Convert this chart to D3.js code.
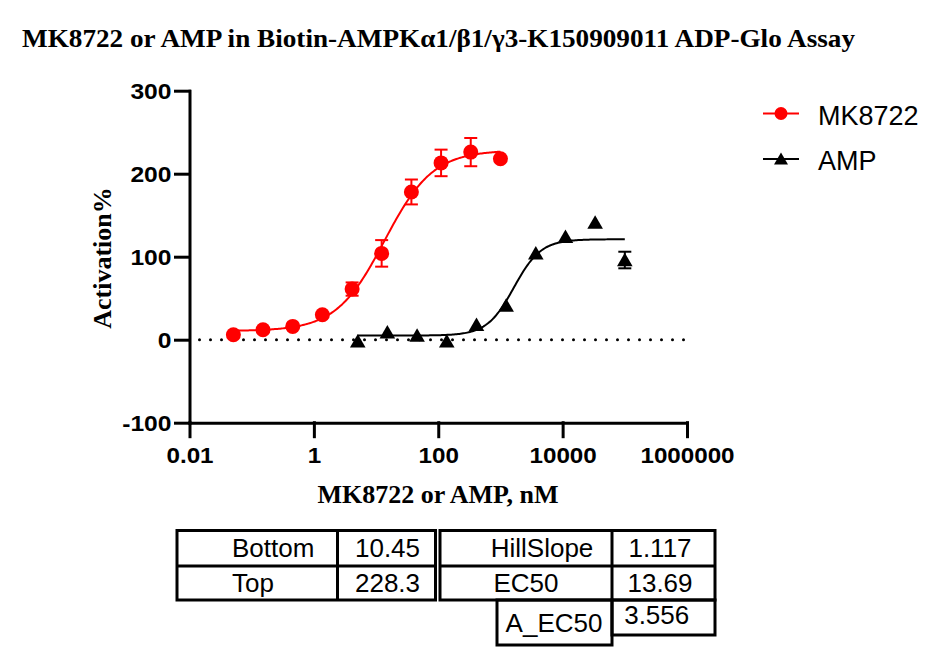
<!DOCTYPE html>
<html>
<head>
<meta charset="utf-8">
<script src="https://cdn.jsdelivr.net/npm/d3@7"></script>
<style>
  body { margin: 0; background: #fff; }
  svg { display: block; }
</style>
</head>
<body>
<div id="chart"></div>
<script>
(function(){
  'use strict';

  // MK8722, 3-fold dilution from 1000 nM
  var mkConc = [0.0508, 0.152, 0.457, 1.37, 4.12, 12.3, 37.0, 111, 333, 1000],
      mkVals = [6, 12, 16, 30, 61, 104, 178, 213, 226, 218],
      mkErr  = [0, 0, 0, 0, 8, 16, 15, 16, 17, 0];

  // AMP, 3-fold dilution from 100000 nM
  var ampConc = [5.08, 15.2, 45.7, 137, 412, 1235, 3704, 11111, 33333, 100000],
      ampVals = [-2, 9, 5, -2, 18, 41, 104, 124, 141, 96],
      ampErr  = [0, 0, 0, 0, 0, 0, 0, 0, 0, 10];

  // fit parameters: bottom, top, EC50, hill
  var mkFit  = [10.45, 228.3, 13.69, 1.117],
      ampFit = [5, 121, 1650, 2.0];

  var xTicks = [0.01, 1, 100, 10000, 1000000],
      xTickLabels = ['0.01', '1', '100', '10000', '1000000'],
      yTicks = [-100, 0, 100, 200, 300],
      yTickLabels = ['-100', '0', '100', '200', '300'];

  var tableRows = [
        ['Bottom', '10.45', 'HillSlope', '1.117'],
        ['Top', '228.3', 'EC50', '13.69']
      ],
      tableExtra = ['A_EC50', '3.556'];

  var titleText = 'MK8722 or AMP in Biotin-AMPK\u03b11/\u03b21/\u03b33-K150909011 ADP-Glo Assay',
      xTitle = 'MK8722 or AMP, nM',
      yTitle = 'Activation%',
      series = ['MK8722', 'AMP'],
      colors = ['#ff0000', '#000000'];

  var w = 945, h = 663,
      sans = 'Arial, "Liberation Sans", sans-serif',
      serif = '"Times New Roman", "Liberation Serif", serif';

  var svg = d3.select('#chart').append('svg')
      .attr('width', w)
      .attr('height', h);

  var x = d3.scaleLog()
      .domain([0.01, 1000000])
      .range([189.5, 687]),

      y = d3.scaleLinear()
      .domain([-100, 300])
      .range([422.7, 90.7]);

  function label(txt, px, py, size, anchor, sx, font, bold) {
    return svg.append('text')
      .attr('transform', 'translate(' + px + ',' + py + ') scale(' + sx + ',1)')
      .attr('text-anchor', anchor)
      .style('font-family', font)
      .style('font-weight', bold ? 'bold' : 'normal')
      .style('font-size', size + 'px')
      .text(txt);
  }

  // title
  label(titleText, 22, 47, 26, 'start', 1, serif, true)
    .attr('textLength', 833)
    .attr('lengthAdjust', 'spacingAndGlyphs');

  // axes
  var xAxis = d3.axisBottom(x)
      .tickValues(xTicks)
      .tickFormat(function(d, i) { return xTickLabels[i]; })
      .tickSize(14)
      .tickSizeOuter(0),

      yAxis = d3.axisLeft(y)
      .tickValues(yTicks)
      .tickFormat(function(d, i) { return yTickLabels[i]; })
      .tickSize(14)
      .tickSizeOuter(0);

  var gx = svg.append('g')
    .attr('class', 'x axis')
    .attr('transform', 'translate(0,' + y(-100) + ')')
    .call(xAxis);

  gx.selectAll('text')
    .attr('y', 0).attr('dy', 0)
    .attr('transform', 'translate(0,40) scale(1.1,1)');

  var gy = svg.append('g')
    .attr('class', 'y axis')
    .attr('transform', 'translate(' + x(0.01) + ',0)')
    .call(yAxis);

  gy.selectAll('text')
    .attr('x', 0).attr('dy', '0.36em')
    .attr('transform', 'translate(-18,0) scale(1.12,1)');

  svg.selectAll('.axis path, .axis line')
    .attr('stroke', '#000')
    .attr('stroke-width', 3)
    .attr('stroke-linecap', 'square');

  svg.selectAll('.axis text')
    .attr('fill', '#000')
    .style('font-family', sans)
    .style('font-weight', 'bold')
    .style('font-size', '22px');

  // axis titles
  label(xTitle, 438, 503, 26, 'middle', 1, serif, true);
  svg.append('text')
    .attr('transform', 'translate(111,258) rotate(-90)')
    .attr('text-anchor', 'middle')
    .style('font-family', serif)
    .style('font-weight', 'bold')
    .style('font-size', '26px')
    .text(yTitle);

  // dotted zero line
  svg.append('line')
    .attr('x1', x(0.01) + 10).attr('x2', x(1000000))
    .attr('y1', y(0)).attr('y2', y(0))
    .attr('stroke', '#000')
    .attr('stroke-width', 3)
    .attr('stroke-linecap', 'round')
    .attr('stroke-dasharray', '0,11');

  // fitted curves
  function hill(p, c) {
    return p[0] + (p[1] - p[0]) / (1 + Math.pow(p[2] / c, p[3]));
  }

  function curve(p, lo, hi, col) {
    var pts = d3.range(0, 201).map(function(i) {
      var c = Math.pow(10, Math.log10(lo) + (Math.log10(hi) - Math.log10(lo)) * i / 200);
      return [c, hill(p, c)];
    });
    svg.append('path')
      .datum(pts)
      .attr('fill', 'none')
      .attr('stroke', col)
      .attr('stroke-width', 2)
      .attr('d', d3.line()
        .x(function(d) { return x(d[0]); })
        .y(function(d) { return y(d[1]); }));
  }

  curve(mkFit, mkConc[0], mkConc[mkConc.length - 1], colors[0]);
  curve(ampFit, ampConc[0], ampConc[ampConc.length - 1], colors[1]);

  // error bars (only where SD shows beyond the symbol)
  function errBars(conc, vals, errs, col) {
    var g = svg.append('g');
    conc.forEach(function(c, i) {
      if (!errs[i]) return;
      var cx = x(c), t = y(vals[i] + errs[i]), b = y(vals[i] - errs[i]);
      g.append('line').attr('x1', cx).attr('x2', cx).attr('y1', t).attr('y2', b);
      g.append('line').attr('x1', cx - 6.5).attr('x2', cx + 6.5).attr('y1', t).attr('y2', t);
      g.append('line').attr('x1', cx - 6.5).attr('x2', cx + 6.5).attr('y1', b).attr('y2', b);
    });
    g.selectAll('line').attr('stroke', col).attr('stroke-width', 2);
  }

  errBars(mkConc, mkVals, mkErr, colors[0]);
  errBars(ampConc, ampVals, ampErr, colors[1]);

  var tri = 'M0,-7.3L7.8,6.2L-7.8,6.2Z';

  svg.selectAll('.mk')
    .data(mkConc)
    .enter()
    .append('circle')
    .attr('class', 'mk')
    .attr('cx', function(d) { return x(d); })
    .attr('cy', function(d, i) { return y(mkVals[i]); })
    .attr('r', 7.5)
    .attr('fill', colors[0]);

  svg.selectAll('.amp')
    .data(ampConc)
    .enter()
    .append('path')
    .attr('class', 'amp')
    .attr('d', tri)
    .attr('transform', function(d, i) { return 'translate(' + x(d) + ',' + y(ampVals[i]) + ')'; })
    .attr('fill', colors[1]);

  // legend
  var legY = [113.5, 159];
  series.forEach(function(s, i) {
    svg.append('line')
      .attr('x1', 763).attr('x2', 799)
      .attr('y1', legY[i]).attr('y2', legY[i])
      .attr('stroke', colors[i]).attr('stroke-width', 2);
    if (i === 0) {
      svg.append('circle').attr('cx', 781).attr('cy', legY[i]).attr('r', 6.5).attr('fill', colors[i]);
    } else {
      svg.append('path').attr('d', 'M0,-6.5L7,5.6L-7,5.6Z')
        .attr('transform', 'translate(781,' + legY[i] + ')').attr('fill', colors[i]);
    }
    label(s, 818, legY[i] + 11, 27, 'start', 1, sans, false);
  });

  // parameter table
  var colX = [[177, 337.5, 435.5], [440, 612, 715]],
      rowY = [530.5, 566, 600],
      baseY = [556.5, 591.5];

  var tg = svg.append('g')
    .attr('fill', 'none')
    .attr('stroke', '#000')
    .attr('stroke-width', 3);

  colX.forEach(function(cx) {
    tg.append('rect')
      .attr('x', cx[0]).attr('y', rowY[0])
      .attr('width', cx[2] - cx[0]).attr('height', rowY[2] - rowY[0]);
    tg.append('line').attr('x1', cx[1]).attr('x2', cx[1]).attr('y1', rowY[0]).attr('y2', rowY[2]);
    tg.append('line').attr('x1', cx[0]).attr('x2', cx[2]).attr('y1', rowY[1]).attr('y2', rowY[1]);
  });
  tg.append('rect').attr('x', 497).attr('y', 600).attr('width', 115).attr('height', 45);
  tg.append('rect').attr('x', 612).attr('y', 600).attr('width', 103).attr('height', 35);

  var rightX = [542, 526];
  tableRows.forEach(function(r, ri) {
    label(r[0], 232, baseY[ri], 26, 'start', 1, sans, false);
    label(r[1], 387.5, baseY[ri], 26, 'middle', 1, sans, false);
    label(r[2], rightX[ri], baseY[ri], 26, 'middle', 1, sans, false);
    label(r[3], 660, baseY[ri], 26, 'middle', 1, sans, false);
  });
  label(tableExtra[0], 554, 632, 26, 'middle', 1, sans, false);
  label(tableExtra[1], 656.7, 624, 26, 'middle', 1, sans, false);

}());
</script>
</body>
</html>
